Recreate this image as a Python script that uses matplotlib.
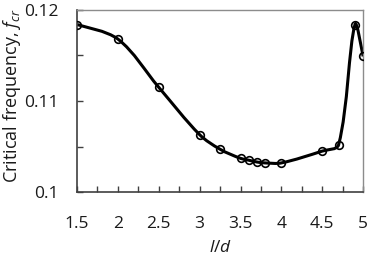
import numpy as np
import matplotlib.pyplot as plt
from matplotlib.path import Path
from matplotlib.patches import PathPatch
from matplotlib.ticker import MultipleLocator

plt.rcParams['font.family'] = 'Open Sans'
plt.rcParams['mathtext.fontset'] = 'custom'
plt.rcParams['mathtext.it'] = 'Open Sans:italic'
plt.rcParams['mathtext.rm'] = 'Open Sans'

ld = [1.5, 2.0, 2.5, 3.0, 3.25, 3.5, 3.6, 3.7, 3.8, 4.0, 4.5, 4.7, 4.9, 5.0]
fcr = [0.1184, 0.1168, 0.1115, 0.1063, 0.1047, 0.1037, 0.1035, 0.1033,
       0.1032, 0.1032, 0.1045, 0.1052, 0.1184, 0.1149]

# smoothed line like a spreadsheet chart: bezier segments, tangents weighted
# by segment length (measured in screen-like units)
pts = np.column_stack([ld, fcr])
scale = np.array([286 / 3.5, 182 / 0.02])
sp = pts * scale
verts = [pts[0]]
codes = [Path.MOVETO]
n = len(pts)
for i in range(n - 1):
    a, b, c, d = max(i - 1, 0), i, i + 1, min(i + 2, n - 1)
    d01 = np.hypot(*(sp[b] - sp[a])) or 1e-9
    d12 = np.hypot(*(sp[c] - sp[b]))
    d23 = np.hypot(*(sp[d] - sp[c])) or 1e-9
    if i == 0:
        d01 = d12
    if i == n - 2:
        d23 = d12
    c1 = pts[b] + (pts[c] - pts[a]) * d12 / (d01 + d12) / 3
    c2 = pts[c] - (pts[d] - pts[b]) * d12 / (d12 + d23) / 3
    verts += [c1, c2, pts[c]]
    codes += [Path.CURVE4] * 3

fig = plt.figure(figsize=(3.74, 2.62), dpi=100)
ax = fig.add_axes([0.206, 0.267, 0.765, 0.695])

ax.add_patch(PathPatch(Path(verts, codes), facecolor='none',
                       edgecolor='black', lw=2.2, zorder=2))
ax.plot(ld, fcr, 'o', mfc='none', mec='black', ms=5.5, mew=1.2, zorder=3)

ax.set_xlim(1.5, 5)
ax.set_ylim(0.1, 0.12)
ax.xaxis.set_minor_locator(MultipleLocator(0.25))
ax.yaxis.set_minor_locator(MultipleLocator(0.005))
ax.set_xticks([1.5, 2, 2.5, 3, 3.5, 4, 4.5, 5])
ax.set_xticklabels(['1.5', '2', '2.5', '3', '3.5', '4', '4.5', '5'])
ax.set_yticks([0.1, 0.11, 0.12])
ax.set_yticklabels(['0.1', '0.11', '0.12'])

ax.tick_params(which='both', direction='in', length=4, width=1,
               color='#404040', labelsize=12.5, labelcolor='#1a1a1a')
ax.tick_params(axis='y', which='both', pad=13)
ax.tick_params(axis='x', which='both', pad=17)

for s in ['left', 'bottom']:
    ax.spines[s].set_color('#404040')
    ax.spines[s].set_linewidth(1.2)
for s in ['top', 'right']:
    ax.spines[s].set_color('#8c8c8c')
    ax.spines[s].set_linewidth(1.0)

ax.set_xlabel('$l/d$', fontsize=12.5, color='#1a1a1a', labelpad=6)
fig.text(0.032, 0.635, 'Critical frequency, $f_{cr}$', fontsize=13,
         color='#1a1a1a', rotation=90, ha='center', va='center')

fig.savefig('out.png', dpi=100)
